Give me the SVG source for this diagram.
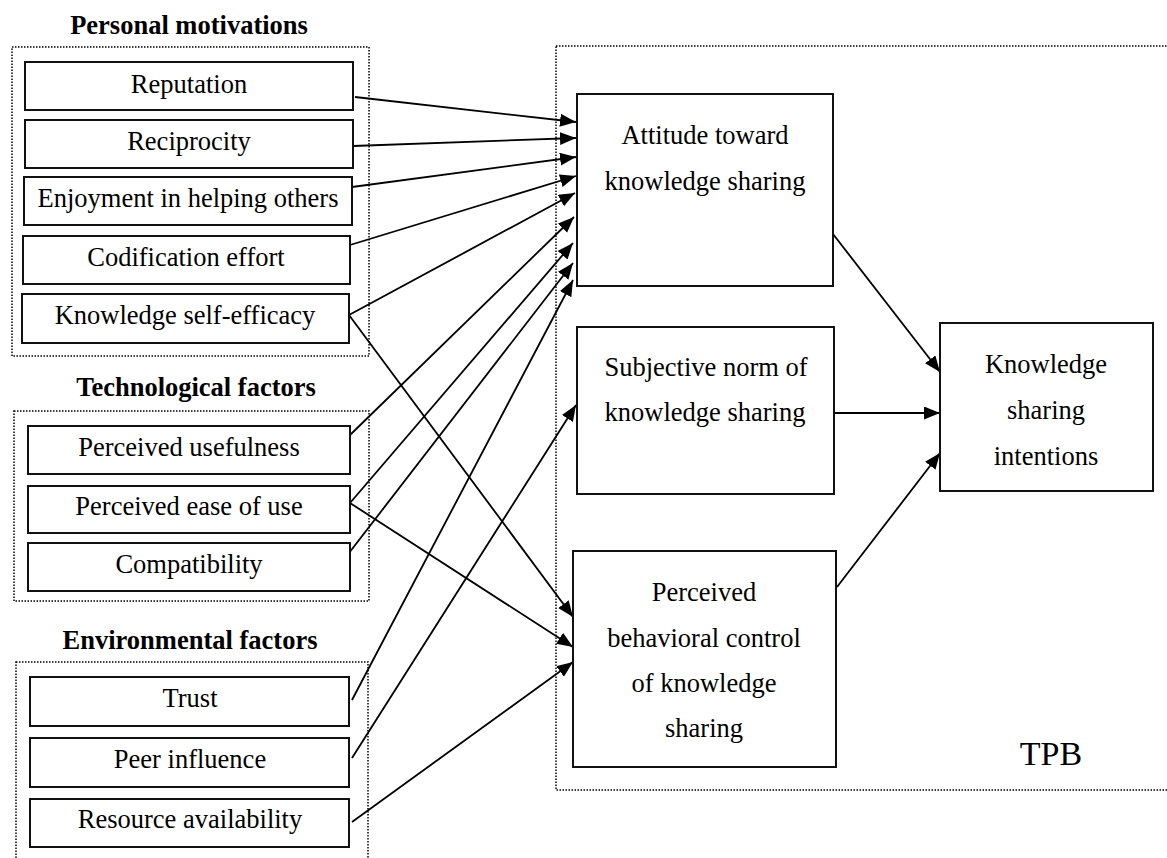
<svg xmlns="http://www.w3.org/2000/svg" width="1167" height="858" viewBox="0 0 1167 858">
<style>
.grp{fill:none;stroke:#000;stroke-width:1.5;stroke-dasharray:1.5 1.5}
.box{fill:#fff;stroke:#111;stroke-width:2}
.t{font-family:"Liberation Serif","Times New Roman",serif;font-size:26.5px;fill:#000;text-anchor:middle}
.h{font-family:"Liberation Serif","Times New Roman",serif;font-size:26.5px;font-weight:bold;fill:#000;text-anchor:middle}
.big{font-family:"Liberation Serif","Times New Roman",serif;font-size:34px;fill:#000;text-anchor:middle}
.con line{stroke:#000;stroke-width:1.8;marker-end:url(#ah)}
</style>
<defs>
<marker id="ah" markerUnits="userSpaceOnUse" markerWidth="17" markerHeight="14" refX="16" refY="6.5" orient="auto">
<path d="M0,0 L16,6.5 L0,13 z" fill="#000"/>
</marker>
</defs>
<rect width="1167" height="858" fill="#fff"/>

<g id="groups">
<rect class="grp" x="12" y="47" width="357" height="309"/>
<text class="h" x="189" y="34">Personal motivations</text>
<rect class="grp" x="14" y="411" width="355" height="190"/>
<text class="h" x="196" y="396">Technological factors</text>
<rect class="grp" x="16" y="662" width="352" height="220"/>
<text class="h" x="190" y="649">Environmental factors</text>
<rect class="grp" x="556" y="46" width="640" height="744"/>
<text class="big" x="1051" y="765">TPB</text>
</g>

<g class="con" id="connectors">
<line x1="355" y1="97" x2="576" y2="122"/>
<line x1="353" y1="146" x2="576" y2="138"/>
<line x1="352" y1="187" x2="576" y2="157"/>
<line x1="350" y1="245" x2="576" y2="176"/>
<line x1="349" y1="315" x2="575" y2="193"/>
<line x1="350" y1="435" x2="574" y2="217"/>
<line x1="350" y1="503" x2="573" y2="243"/>
<line x1="349" y1="553" x2="573" y2="263"/>
<line x1="352" y1="700" x2="573" y2="280"/>
<line x1="352" y1="758" x2="576" y2="405"/>
<line x1="349" y1="315" x2="573" y2="617"/>
<line x1="350" y1="503" x2="573" y2="647"/>
<line x1="352" y1="822" x2="573" y2="662"/>
<line x1="833" y1="234" x2="940" y2="372"/>
<line x1="834" y1="413" x2="940" y2="413"/>
<line x1="837" y1="587" x2="940" y2="453"/>
</g>

<g id="reputation"><rect class="box" x="25" y="62" width="328" height="48"/><text class="t" x="189" y="93">Reputation</text></g>
<g id="reciprocity"><rect class="box" x="25" y="120" width="328" height="48"/><text class="t" x="189" y="150">Reciprocity</text></g>
<g id="enjoyment"><rect class="box" x="24" y="177" width="328" height="48"/><text class="t" x="188" y="207">Enjoyment in helping others</text></g>
<g id="codification"><rect class="box" x="23" y="236" width="327" height="48"/><text class="t" x="186" y="266">Codification effort</text></g>
<g id="self-efficacy"><rect class="box" x="22" y="294" width="327" height="49"/><text class="t" x="185" y="324">Knowledge self-efficacy</text></g>

<g id="usefulness"><rect class="box" x="28" y="426" width="322" height="48"/><text class="t" x="189" y="456">Perceived usefulness</text></g>
<g id="ease-of-use"><rect class="box" x="28" y="486" width="322" height="47"/><text class="t" x="189" y="515">Perceived ease of use</text></g>
<g id="compatibility"><rect class="box" x="28" y="543" width="322" height="48"/><text class="t" x="189" y="573">Compatibility</text></g>

<g id="trust"><rect class="box" x="30" y="677" width="319" height="49"/><text class="t" x="190" y="707">Trust</text></g>
<g id="peer"><rect class="box" x="30" y="738" width="319" height="49"/><text class="t" x="190" y="768">Peer influence</text></g>
<g id="resource"><rect class="box" x="30" y="799" width="319" height="48"/><text class="t" x="190" y="828">Resource availability</text></g>

<g id="attitude"><rect class="box" x="577" y="94" width="256" height="192"/>
<text class="t" x="705" y="144">Attitude toward</text>
<text class="t" x="705" y="190">knowledge sharing</text></g>
<g id="subjective-norm"><rect class="box" x="577" y="327" width="257" height="167"/>
<text class="t" x="706" y="376">Subjective norm of</text>
<text class="t" x="705" y="421">knowledge sharing</text></g>
<g id="intentions"><rect class="box" x="940" y="323" width="213" height="168"/>
<text class="t" x="1046" y="373">Knowledge</text>
<text class="t" x="1046" y="419">sharing</text>
<text class="t" x="1046" y="465">intentions</text></g>
<g id="pbc"><rect class="box" x="573" y="551" width="263" height="216"/>
<text class="t" x="704" y="601">Perceived</text>
<text class="t" x="704" y="647">behavioral control</text>
<text class="t" x="704" y="692">of knowledge</text>
<text class="t" x="704" y="737">sharing</text></g>
</svg>
